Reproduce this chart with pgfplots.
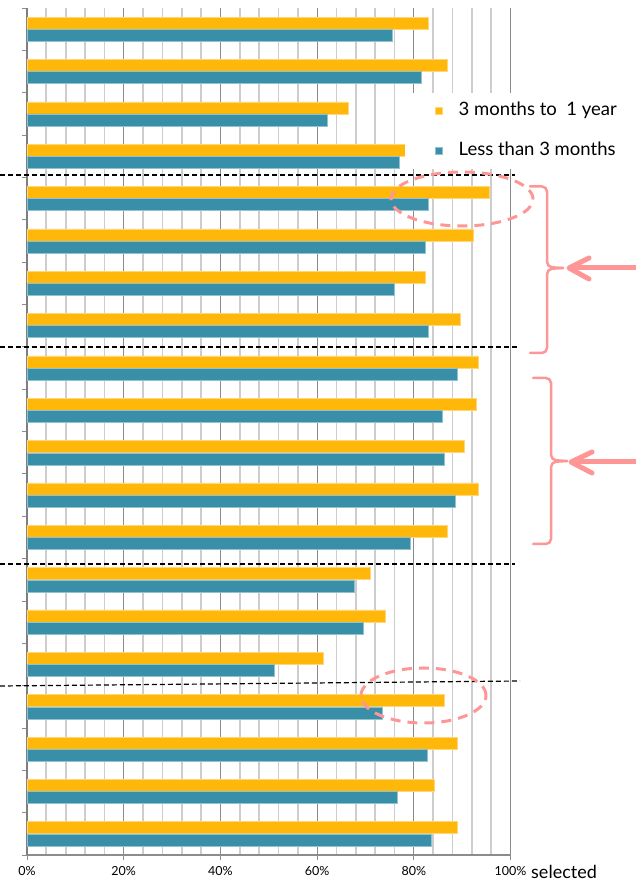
\documentclass[border=0pt]{standalone}
\usepackage{fontspec}
\setmainfont{Lato}
\usepackage{pgfplots}
\pgfplotsset{compat=1.18}
\usepackage{pgfplotstable}

\definecolor{barorange}{RGB}{255,183,10}
\definecolor{barteal}{RGB}{57,143,167}
\definecolor{notepink}{RGB}{255,150,150}
\definecolor{gridmajor}{RGB}{140,140,140}
\definecolor{gridminor}{RGB}{205,205,205}

% share selected, per row (top to bottom)
\pgfplotstableread{
row orange teal
1  82.9 75.5
2  87.0 81.6
3  66.4 62.2
4  78.7 77.0
5  95.6 83.0
6  92.2 82.4
7  82.3 76.0
8  89.6 83.0
9  93.3 88.9
10 92.9 85.8
11 90.4 86.2
12 93.3 88.6
13 86.9 79.3
14 70.9 67.6
15 74.0 69.6
16 61.2 51.1
17 86.3 73.4
18 88.9 82.7
19 84.2 76.5
20 88.9 83.6
}\rates

\begin{document}
\begin{tikzpicture}
\begin{axis}[
  scale only axis, width=483.5pt, height=847pt,
  xbar, bar width=12pt,
  xmin=0, xmax=100, ymin=0.5, ymax=20.5, y dir=reverse,
  axis x line*=bottom, axis y line*=left,
  x axis line style={-, gridmajor, line width=1.5pt},
  y axis line style={-, gridmajor!90!black, line width=2pt},
  xtick={0,20,...,100}, minor x tick num=4,
  xmajorgrids, xminorgrids,
  major grid style={gridmajor, line width=1pt},
  minor grid style={gridminor, line width=1.7pt},
  ytick={0.5,1.5,...,20.5}, yticklabels={},
  tick align=outside, major tick length=4.5pt, minor tick length=0pt,
  tick style={gridmajor, line width=0.8pt},
  xticklabel={\pgfmathprintnumber{\tick}\%},
  /pgf/number format/assume math mode=true,
  xticklabel style={font=\fontsize{12.5}{14}\selectfont, yshift=-3pt},
  clip=false,
  legend cell align=left,
  legend image code/.code={\fill[#1] (0pt,-3.5pt) rectangle (7pt,3.5pt);},
  legend style={at={(0.7818,0.8996)}, anchor=north west, draw=none, fill=white,
    font=\fontsize{18.5}{20}\selectfont, inner xsep=30pt, inner ysep=11pt,
    row sep=26pt,
    nodes={inner sep=0pt, text height=11pt, text depth=3pt},
    /tikz/every odd column/.style={column sep=16pt}},
]
\addplot[fill=barorange, draw=barorange!55!white, line width=0.5pt, bar shift=6.1pt]
  table[x=orange, y=row] {\rates};
\addlegendentry{3 months to\ \ 1 year}
\addplot[fill=barteal, draw=barteal!55!white, line width=0.5pt, bar shift=-6.1pt]
  table[x=teal, y=row] {\rates};
\addlegendentry{Less than 3 months}
\end{axis}

% annotations, in pixel units of the original image
\begin{scope}[shift={(-27pt,855pt)}, x=1pt, y=-1pt]
  \begin{scope}[black, line width=1.2pt, dash pattern=on 5pt off 3pt]
    \draw (0,175) -- (515,175);
    \draw (0,347) -- (517,347);
    \draw (0,564) -- (515,564);
    \draw (0,686) -- (520,681);
  \end{scope}
  \begin{scope}[notepink, line width=3pt, dash pattern=on 10pt off 7pt]
    \draw (462,199) ellipse [x radius=71pt, y radius=27pt];
    \draw (423.5,695.5) ellipse [x radius=62.5pt, y radius=27.5pt];
  \end{scope}
  \begin{scope}[notepink, line width=2.5pt, line cap=round, rounded corners=5pt]
    \draw (530,186.5) -- (547,186.5) -- (547,267) -- (563,268);
    \draw (563,268) -- (547,269) -- (547,353) -- (530,353);
    \draw (533,378) -- (551,378) -- (551,460) -- (567,461);
    \draw (567,461) -- (551,462) -- (551,544) -- (533,544);
  \end{scope}
  \begin{scope}[notepink, line width=5pt, line cap=round, line join=round]
    \draw (636,268) -- (571,268);
    \draw (589,258) -- (569,268) -- (589,279);
    \draw (636,462) -- (573,462);
    \draw (592,452) -- (571,462) -- (592,473);
  \end{scope}
  \node[anchor=base west, inner sep=0pt, font=\fontsize{18}{20}\selectfont] at (531,878) {selected};
  \pgfresetboundingbox
  \path[use as bounding box] (0,0) rectangle (635,884);
\end{scope}
\end{tikzpicture}
\end{document}
